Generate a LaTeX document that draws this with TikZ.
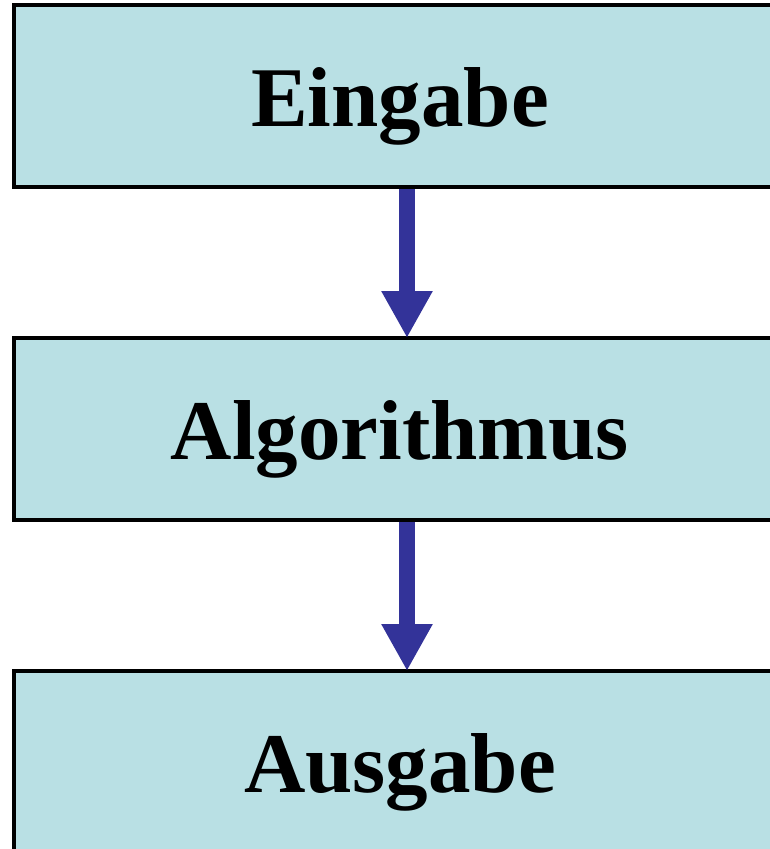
\documentclass[tikz,border=0pt]{standalone}
\usepackage{fontspec}
\setmainfont{Liberation Serif}
\usetikzlibrary{arrows.meta}
\definecolor{boxfill}{RGB}{185,224,228}
\definecolor{arrowblue}{RGB}{51,51,153}
\tikzset{blk/.style = {draw, line width=4pt, fill=boxfill, minimum width=772pt,
                       minimum height=182pt, inner sep=0pt,
                       text height=60pt, text depth=0pt,
                       font=\fontsize{85}{100}\selectfont\bfseries},
         flow/.style = {arrowblue, line width=16pt, shorten >=-2pt,
                        -{Triangle[width=48pt, length=47pt]}}}

\begin{document}
\begin{tikzpicture}[x=1pt, y=1pt]
    \useasboundingbox (0,0) rectangle (769,-849);
    \node[blk] (in)  at (400,-96)  {Eingabe};
    \node[blk] (alg) at (400,-429) {Algorithmus};
    \node[blk] (out) at (400,-762) {Ausgabe};
    \draw[flow] ([xshift=7pt]in.south) -- ([xshift=7pt]alg.north);
    \draw[flow] ([xshift=7pt]alg.south) -- ([xshift=7pt]out.north);
\end{tikzpicture}
\end{document}
